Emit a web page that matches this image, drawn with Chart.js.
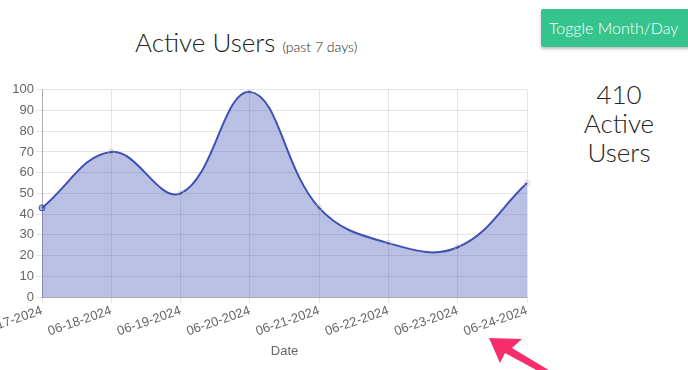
<!DOCTYPE html>
<html>
<head>
<meta charset="utf-8">
<script src="https://cdn.jsdelivr.net/npm/chart.js@4/dist/chart.umd.min.js"></script>
<style>
  html, body { margin:0; padding:0; width:688px; height:370px; overflow:hidden; background:#fff; font-family: Lato, "Open Sans", sans-serif; }
  #title { position:absolute; left:135px; top:26px; font-size:26px; color:#222; white-space:nowrap; font-weight:300; }
  #title small { font-size:14px; font-weight:300; }
  #btn { position:absolute; left:541px; top:9px; width:160px; height:38px; background:#36c48e; color:#fff; font-size:16px; line-height:38px; padding-left:8px; box-sizing:border-box; border-radius:2px; box-shadow:0 2px 3px rgba(0,0,0,0.25); white-space:nowrap; font-weight:300; }
  #total { position:absolute; left:560px; top:80px; width:118px; text-align:center; font-size:26px; line-height:29px; color:#222; font-weight:300; }
  #wrap { position:absolute; left:0; top:80px; width:535px; height:285px; }
  #arrow { position:absolute; left:0; top:0; }
</style>
</head>
<body>
<div id="title">Active Users <small>(past 7 days)</small></div>
<div id="btn">Toggle Month/Day</div>
<div id="total"></div>
<div id="wrap"><canvas id="c"></canvas></div>
<svg id="arrow" width="688" height="370">
  <polygon points="489,338 522,339 512,348 552,372 540,372 505,353 500,363" fill="#f72d6c"/>
</svg>
<script>
const dates = ["06-17-2024","06-18-2024","06-19-2024","06-20-2024","06-21-2024","06-22-2024","06-23-2024","06-24-2024"];
const activeUsers = [43, 70, 50, 99, 43, 26, 24, 55];
const yTicks = { min: 0, max: 100, step: 10 };

const total = activeUsers.reduce((a, b) => a + b, 0);
document.getElementById('total').innerHTML = total + '<br>Active<br>Users';

const tickFont = { family: '"Liberation Sans", Arial, sans-serif', size: 13 };

new Chart(document.getElementById('c'), {
  type: 'line',
  data: {
    labels: dates,
    datasets: [{
      label: 'Active Users',
      data: activeUsers,
      borderColor: '#3f51b5',
      backgroundColor: 'rgba(63,81,181,0.36)',
      borderWidth: 2,
      fill: 'origin',
      tension: 0.4,
      pointRadius: 3,
      pointBorderWidth: 1,
      pointBackgroundColor: activeUsers.map((v, i) => i === 0 ? 'rgba(63,81,181,0.4)' : 'rgba(0,0,0,0.06)'),
      pointBorderColor: activeUsers.map((v, i) => i === 0 ? '#3f51b5' : 'rgba(200,200,200,0.5)')
    }]
  },
  options: {
    responsive: true,
    maintainAspectRatio: false,
    animation: false,
    layout: { padding: { top: 3, right: 8 } },
    plugins: { legend: { display: false }, tooltip: { enabled: false } },
    scales: {
      x: {
        grid: { color: 'rgba(0,0,0,0.1)', tickLength: 6 },
        border: { color: 'rgba(0,0,0,0.25)' },
        ticks: { color: '#666', font: tickFont, minRotation: 19, maxRotation: 19, autoSkip: false, padding: 0 },
        title: { display: true, text: 'Date', color: '#666', font: tickFont, padding: { top: 4, bottom: 6 } },
        afterFit: (s) => { s.paddingLeft = 0; s.paddingRight = 0; s.height = 68; }
      },
      y: {
        min: yTicks.min, max: yTicks.max,
        grid: { color: 'rgba(0,0,0,0.1)', tickLength: 6 },
        border: { color: 'rgba(0,0,0,0.25)' },
        ticks: { stepSize: yTicks.step, color: '#666', font: tickFont, padding: 2 },
        afterFit: (s) => { s.width = 42; }
      }
    }
  }
});
</script>
</body>
</html>
